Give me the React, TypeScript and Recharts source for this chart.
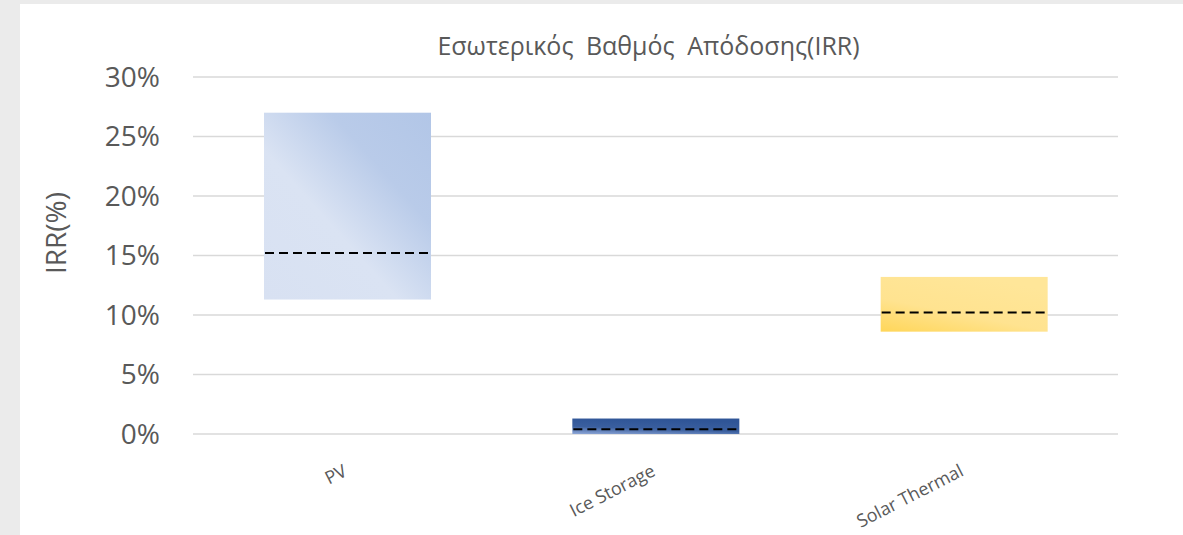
import { BarChart, Bar, XAxis, YAxis, CartesianGrid, Cell } from 'recharts';

const categories = ['PV', 'Ice Storage', 'Solar Thermal'];
const lowValues = [11.3, 0, 8.6];
const highValues = [27.0, 1.3, 13.2];
const medianValues = [15.2, 0.4, 10.2];
const yTicks = [0, 5, 10, 15, 20, 25, 30];

const data = categories.map((name, i) => ({
  name,
  range: [lowValues[i], highValues[i]],
  low: lowValues[i],
  high: highValues[i],
  median: medianValues[i],
}));

const FONT = '"Open Sans", "Noto Sans", sans-serif';
const TEXT = '#595959';

// box with the dashed median line drawn across it
const RangeBox = (props: any) => {
  const { x, y, width, height, fill, payload } = props;
  const span = payload.high - payload.low;
  const my = y + (height * (payload.high - payload.median)) / span;
  return (
    <g>
      <rect x={x} y={y} width={width} height={height} fill={fill} />
      <line x1={x + 1} x2={x + width - 1} y1={my} y2={my} stroke="#000" strokeWidth={2} strokeDasharray="9 5" />
    </g>
  );
};

const CategoryTick = (props: any) => {
  const { x, y, payload } = props;
  const ty = y + 33;
  return (
    <text
      x={x + 1}
      y={ty}
      transform={`rotate(-27, ${x + 1}, ${ty})`}
      textAnchor="end"
      fill={TEXT}
      fontSize={18}
      fontFamily={FONT}
    >
      {payload.value}
    </text>
  );
};

export default function App() {
  return (
    <div style={{ position: 'absolute', left: 0, top: 0, width: 1183, height: 535, background: '#ebebeb', overflow: 'hidden' }}>
      <div style={{ position: 'absolute', left: 20, top: 4, width: 1163, height: 531, background: '#fff' }} />
      <div
        style={{
          position: 'absolute', left: 186, width: 925, top: 28, textAlign: 'center',
          fontFamily: FONT, fontSize: 25, color: TEXT, wordSpacing: 6, whiteSpace: 'nowrap',
        }}
      >
        Εσωτερικός Βαθμός Απόδοσης(IRR)
      </div>
      <div
        style={{
          position: 'absolute', left: 55, top: 233, transform: 'translate(-50%, -50%) rotate(-90deg)',
          fontFamily: FONT, fontSize: 28, color: TEXT, whiteSpace: 'nowrap',
        }}
      >
        IRR(%)
      </div>
      <div style={{ position: 'absolute', left: 0, top: 0 }}>
        <BarChart width={1183} height={535} data={data} margin={{ top: 77, right: 65, bottom: 1, left: 0 }}>
          <defs>
            <linearGradient id="gPV" x1="1" y1="0" x2="0" y2="1">
              <stop offset="0%" stopColor="#b2c6e7" />
              <stop offset="30%" stopColor="#b9cbe9" />
              <stop offset="60%" stopColor="#dae3f3" />
              <stop offset="100%" stopColor="#d8e1f2" />
            </linearGradient>
            <linearGradient id="gIce" x1="0" y1="1" x2="0.35" y2="0">
              <stop offset="0%" stopColor="#8fa8d8" />
              <stop offset="45%" stopColor="#3a5f9f" />
              <stop offset="100%" stopColor="#2f5597" />
            </linearGradient>
            <linearGradient id="gSolar" x1="0" y1="1" x2="0.6" y2="0">
              <stop offset="0%" stopColor="#ffd659" />
              <stop offset="45%" stopColor="#ffe390" />
              <stop offset="100%" stopColor="#ffe699" />
            </linearGradient>
          </defs>
          <CartesianGrid vertical={false} stroke="#d9d9d9" strokeWidth={1.5} />
          <XAxis
            dataKey="name"
            axisLine={false}
            tickLine={false}
            height={100}
            interval={0}
            tick={<CategoryTick />}
          />
          <YAxis
            width={193}
            domain={[0, 30]}
            ticks={yTicks}
            axisLine={false}
            tickLine={false}
            tickSize={0}
            tickMargin={33}
            tickFormatter={(v: number) => `${v}%`}
            tick={{ fill: TEXT, fontSize: 28, fontFamily: FONT }}
          />
          <Bar dataKey="range" barSize={167} shape={<RangeBox />} isAnimationActive={false}>
            <Cell fill="url(#gPV)" />
            <Cell fill="url(#gIce)" />
            <Cell fill="url(#gSolar)" />
          </Bar>
        </BarChart>
      </div>
    </div>
  );
}
